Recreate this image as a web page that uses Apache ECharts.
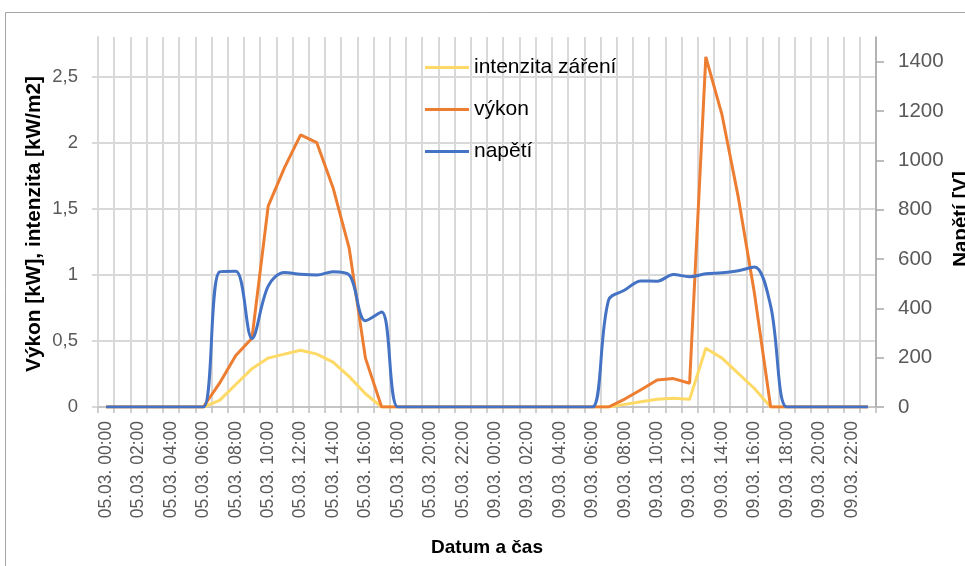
<!DOCTYPE html>
<html>
<head>
<meta charset="utf-8">
<script src="https://cdn.jsdelivr.net/npm/echarts@6/dist/echarts.min.js"></script>
<style>html,body{margin:0;padding:0;background:#fff}#c{width:965px;height:566px}</style>
</head>
<body>
<div id="c"></div>
<script>
var days = ['05.03.', '09.03.'];
var hours = ['00','01','02','03','04','05','06','07','08','09','10','11','12','13','14','15','16','17','18','19','20','21','22','23'];
var categories = [];
days.forEach(function(d){ hours.forEach(function(h){ categories.push(d + ' ' + h + ':00'); }); });

var seriesNames = ['intenzita záření', 'výkon', 'napětí'];

var intenzita = [
  0,0,0,0,0,0,0,0.05,0.17,0.29,0.37,0.40,0.43,0.40,0.34,0.23,0.10,0,0,0,0,0,0,0,
  0,0,0,0,0,0,0,0,0.02,0.04,0.058,0.066,0.058,0.445,0.37,0.255,0.14,0,0,0,0,0,0,0
];
var vykon = [
  0,0,0,0,0,0,0,0.18,0.39,0.52,1.52,1.81,2.06,2.00,1.66,1.20,0.37,0,0,0,0,0,0,0,
  0,0,0,0,0,0,0,0,0.06,0.13,0.205,0.215,0.18,2.65,2.21,1.59,0.86,0,0,0,0,0,0,0
];
var napeti = [
  0,0,0,0,0,0,0,548,550,278,490,545,538,535,548,535,350,385,0,0,0,0,0,0,
  0,0,0,0,0,0,0,433,474,511,510,537,528,540,544,552,568,410,0,0,0,0,0,0
];

var leftTicks = [0, 0.5, 1, 1.5, 2, 2.5];
var rightTicks = [0, 200, 400, 600, 800, 1000, 1200, 1400];

var chart = echarts.init(document.getElementById('c'), null, {renderer: 'canvas'});
var grey = '#595959';
var gridC = '#d9d9d9';
var font = 'Liberation Sans';

chart.setOption({
  backgroundColor: '#fff',
  animation: false,
  textStyle: {fontFamily: font},
  grid: {left: 98, right: 89, top: 37, bottom: 159, containLabel: false},
  legend: {
    orient: 'vertical', left: 425, top: 57, padding: 0, icon: 'rect',
    itemWidth: 44, itemHeight: 3, itemGap: 21,
    textStyle: {fontFamily: font, fontSize: 21, color: '#000', lineHeight: 21},
    data: seriesNames
  },
  xAxis: {
    type: 'category', data: categories, boundaryGap: true,
    axisLine: {lineStyle: {color: '#bfbfbf', width: 1.5}},
    axisTick: {show: true, interval: 0, length: 6, lineStyle: {color: '#bfbfbf', width: 1.5}},
    splitLine: {show: true, interval: 0, lineStyle: {color: gridC, width: 2}},
    axisLabel: {interval: 1, rotate: 90, margin: 14, color: grey, fontSize: 17.5, fontFamily: font}
  },
  yAxis: [{
    type: 'value', min: 0, max: 2.8, interval: 0.5, position: 'left',
    axisLine: {show: true, lineStyle: {color: gridC, width: 2}},
    axisTick: {show: true, length: 6, lineStyle: {color: gridC, width: 2}},
    splitLine: {show: true, showMaxLine: false, lineStyle: {color: gridC, width: 2}},
    axisLabel: {showMaxLabel: false, margin: 20, color: grey, fontSize: 18.5, fontFamily: font,
      formatter: function(v){ return leftTicks.indexOf(v) >= 0 ? String(v).replace('.', ',') : ''; }}
  }, {
    type: 'value', min: 0, max: 1500, interval: 200, position: 'right',
    axisLine: {show: true, lineStyle: {color: '#a6a6a6', width: 1.5}},
    axisTick: {show: true, length: 8, lineStyle: {color: '#a6a6a6', width: 1.5}},
    splitLine: {show: false},
    axisLabel: {showMaxLabel: false, margin: 22, color: grey, fontSize: 20.5, fontFamily: font,
      formatter: function(v){ return rightTicks.indexOf(v) >= 0 ? String(v) : ''; }}
  }],
  series: [
    {name: seriesNames[0], type: 'line', data: intenzita, yAxisIndex: 0, symbol: 'none',
     lineStyle: {color: '#FFD966', width: 3}, itemStyle: {color: '#FFD966'}},
    {name: seriesNames[1], type: 'line', data: vykon, yAxisIndex: 0, symbol: 'none',
     lineStyle: {color: '#ED7D31', width: 3}, itemStyle: {color: '#ED7D31'}},
    {name: seriesNames[2], type: 'line', data: napeti, yAxisIndex: 1, symbol: 'none', smooth: 0.35,
     lineStyle: {color: '#4472C4', width: 3}, itemStyle: {color: '#4472C4'}}
  ],
  graphic: [
    {type: 'rect', silent: true, shape: {x: 5.5, y: 12.5, width: 1000, height: 600},
     style: {fill: 'none', stroke: '#a6a6a6', lineWidth: 1}},
    {type: 'text', x: 34, y: 224, rotation: Math.PI / 2,
     style: {text: 'Výkon [kW], intenzita [kW/m2]', font: 'bold 20.8px "Liberation Sans"', fill: '#000', align: 'center', verticalAlign: 'middle'}},
    {type: 'text', x: 961, y: 219, rotation: Math.PI / 2,
     style: {text: 'Napětí [V]', font: 'bold 20.5px "Liberation Sans"', fill: '#000', align: 'center', verticalAlign: 'middle'}},
    {type: 'text', x: 487, y: 548,
     style: {text: 'Datum a čas', font: 'bold 19px "Liberation Sans"', fill: '#000', align: 'center', verticalAlign: 'middle'}}
  ]
});
</script>
</body>
</html>
